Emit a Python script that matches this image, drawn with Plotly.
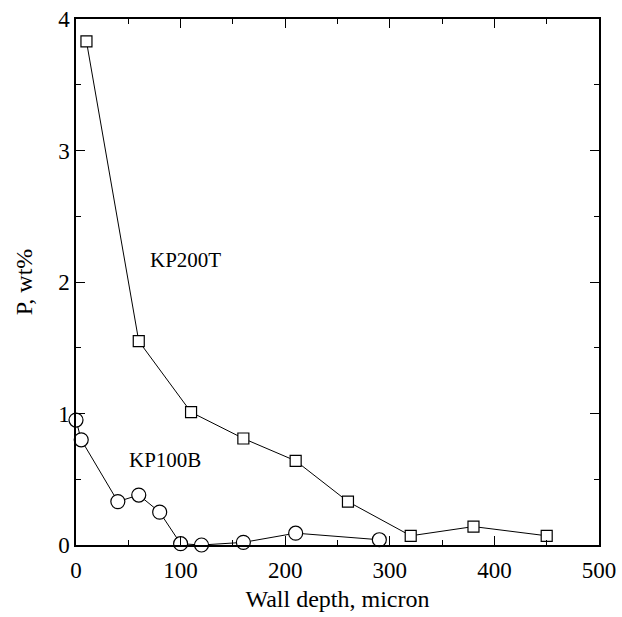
import plotly.graph_objects as go

kp200t_x = [10, 60, 110, 160, 210, 260, 320, 380, 450]
kp200t_y = [3.83, 1.55, 1.01, 0.81, 0.64, 0.33, 0.07, 0.14, 0.07]
kp100b_x = [0, 5, 40, 60, 80, 100, 120, 160, 210, 290]
kp100b_y = [0.95, 0.80, 0.33, 0.38, 0.25, 0.01, 0.0, 0.02, 0.09, 0.04]

font = "Liberation Serif"
fig = go.Figure()
fig.add_trace(go.Scatter(x=kp100b_x, y=kp100b_y, mode="lines+markers",
                         line=dict(color="black", width=1),
                         marker=dict(symbol="circle", size=14, color="white",
                                     line=dict(color="black", width=1.2)),
                         cliponaxis=False, showlegend=False))
fig.add_trace(go.Scatter(x=kp200t_x, y=kp200t_y, mode="lines+markers",
                         line=dict(color="black", width=1),
                         marker=dict(symbol="square", size=11, color="white",
                                     line=dict(color="black", width=1.2)),
                         cliponaxis=False, showlegend=False))
fig.add_annotation(x=105, y=2.17, text="KP200T", showarrow=False,
                   font=dict(family=font, size=21, color="black"))
fig.add_annotation(x=85, y=0.65, text="KP100B", showarrow=False,
                   font=dict(family=font, size=21, color="black"))

axis_common = dict(showline=True, linecolor="black", linewidth=1.5, mirror="ticks",
                   ticks="inside", ticklen=9, tickcolor="black", tickwidth=1,
                   showgrid=False, zeroline=False, automargin=False,
                   tickfont=dict(family=font, size=23, color="black"))
fig.update_xaxes(range=[0, 500], dtick=100, ticklabelstandoff=4,
                 minor=dict(dtick=50, ticks="inside", ticklen=5, tickcolor="black"),
                 title=dict(text="Wall depth, micron", font=dict(family=font, size=24, color="black"),
                            standoff=8),
                 **axis_common)
fig.update_yaxes(range=[0, 4], dtick=1,
                 minor=dict(dtick=0.5, ticks="inside", ticklen=5, tickcolor="black"),
                 title=dict(text="P, wt%", font=dict(family=font, size=24, color="black"),
                            standoff=19),
                 **axis_common)
fig.update_layout(width=622, height=617, margin=dict(l=76, r=23, t=19, b=72),
                  plot_bgcolor="white", paper_bgcolor="white")
fig.write_html("out.html")
